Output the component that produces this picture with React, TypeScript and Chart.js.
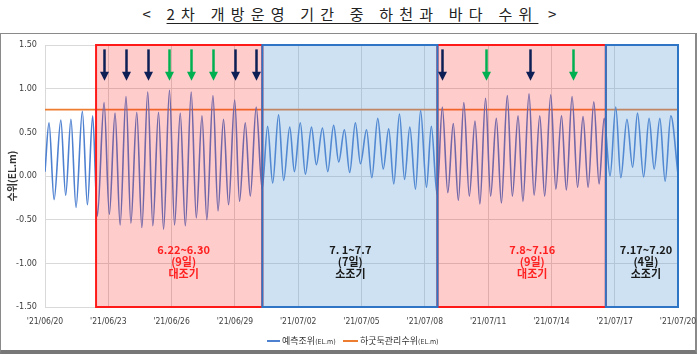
import React, { useEffect, useRef } from "react";
import { Chart, registerables } from "chart.js";

Chart.register(...registerables);

// ---------- data ----------
const xTickLabels = [
  "'21/06/20", "'21/06/23", "'21/06/26", "'21/06/29", "'21/07/02", "'21/07/05",
  "'21/07/08", "'21/07/11", "'21/07/14", "'21/07/17", "'21/07/20",
];
const xTickStepDays = 3;

// predicted tide: times of high/low water (days since 6/20) and levels (EL.m)
const tideDays = [
  0, 0.19, 0.43, 0.75, 0.98, 1.23, 1.47, 1.77, 2.01, 2.26, 2.48,
  2.80, 3.05, 3.32, 3.56, 3.84, 4.07, 4.35, 4.59, 4.87, 5.11, 5.38, 5.62, 5.90, 6.14,
  6.41, 6.65, 6.93, 7.17, 7.44, 7.67, 7.96, 8.20, 8.46, 8.70, 8.99, 9.22, 9.49, 9.73,
  10.01, 10.29, 10.55, 10.79, 11.07, 11.31, 11.60, 11.82, 12.10, 12.34, 12.63, 12.86,
  13.15, 13.40, 13.68, 13.92, 14.19, 14.44, 14.71, 14.95, 15.24, 15.49, 15.77, 16.03,
  16.29, 16.53, 16.80, 17.04, 17.29, 17.56, 17.80, 18.08, 18.31, 18.58, 18.83, 19.09,
  19.35, 19.59, 19.85, 20.11, 20.38, 20.61, 20.88, 21.12, 21.39, 21.63, 21.91, 22.15,
  22.42, 22.65, 22.94, 23.18, 23.45, 23.68, 23.97, 24.21, 24.48, 24.71, 24.98, 25.24,
  25.50, 25.74, 26.01, 26.26, 26.50, 26.78, 27.05, 27.29, 27.58, 27.85, 28.08, 28.37,
  28.63, 28.87, 29.14, 29.39, 29.66, 30,
];
const tideLevels = [
  0.05, 0.61, -0.27, 0.64, -0.22, 0.65, -0.36, 0.74, -0.33, 0.69, -0.46,
  0.84, -0.44, 0.72, -0.56, 0.91, -0.54, 0.73, -0.59, 0.96, -0.57, 0.73, -0.61, 0.98, -0.56,
  0.72, -0.57, 0.96, -0.48, 0.69, -0.50, 0.92, -0.40, 0.65, -0.33, 0.87, -0.29, 0.61, -0.23,
  0.79, -0.15, 0.57, -0.08, 0.70, -0.05, 0.56, 0.05, 0.61, 0.02, 0.56, 0.13,
  0.55, 0.05, 0.58, 0.16, 0.53, 0.04, 0.61, 0.14, 0.53, -0.02, 0.66, 0.08,
  0.54, -0.09, 0.71, -0.04, 0.56, -0.15, 0.75, -0.13, 0.57, -0.21, 0.79, -0.19,
  0.60, -0.28, 0.84, -0.23, 0.63, -0.32, 0.89, -0.23, 0.66, -0.31, 0.92, -0.23,
  0.69, -0.29, 0.94, -0.22, 0.69, -0.23, 0.93, -0.15, 0.69, -0.16, 0.91, -0.13,
  0.68, -0.13, 0.85, -0.09, 0.66, 0.00, 0.79, -0.02, 0.65, 0.10, 0.72, -0.01,
  0.66, 0.08, 0.66, -0.06, 0.69, 0.02,
];

const barrageLevel = 0.76; // 하굿둑 관리수위
const xRange = [0, 30];

// opening periods (days since 6/20)
const periodStart = [2.42, 10.3, 18.6, 26.58];
const periodEnd = [10.3, 18.6, 26.58, 30];
const periodKind = ["spring", "neap", "spring", "neap"];
const periodText = [
  ["6.22~6.30", "(9일)", "대조기"],
  ["7. 1~7.7", "(7일)", "소조기"],
  ["7.8~7.16", "(9일)", "대조기"],
  ["7.17~7.20", "(4일)", "소조기"],
];
const periodTextDay = [6.57, 14.47, 23.09, 28.48];

// arrows over high waters
const navyArrowDays = [2.8, 3.84, 4.87, 8.99, 10.01, 18.83, 22.97];
const greenArrowDays = [5.9, 6.93, 7.96, 20.88, 25.03];

const seriesNames = ["예측조위", "하굿둑관리수위"];

// ---------- styles ----------
const FONT_KR = '"Noto Sans CJK KR", "Noto Sans", sans-serif';
const FONT_NUM = '"Liberation Sans Narrow", "DejaVu Sans Condensed", "Liberation Sans", Arial, sans-serif';
const TIDE_COLOR = "#4f81d1";
const LEVEL_COLOR = "#ed7d31";

export default function App() {
  const ref = useRef<HTMLCanvasElement>(null);

  useEffect(() => {
    const canvas = ref.current;
    if (!canvas) return;

    const periodPlugin = {
      id: "periods",
      afterDatasetsDraw(chart: any) {
        const { ctx, chartArea: a, scales } = chart;
        const x = scales.x;
        const y = scales.y;
        ctx.save();
        const order = [0, 2, 1, 3];
        for (const i of order) {
          const x0 = x.getPixelForValue(periodStart[i]);
          const x1 = x.getPixelForValue(periodEnd[i]);
          ctx.fillStyle = periodKind[i] === "spring" ? "rgba(255,0,0,0.2)" : "rgba(91,155,213,0.3)";
          ctx.fillRect(x0, a.top, x1 - x0, a.bottom - a.top);
        }
        ctx.lineWidth = 2;
        for (const i of order) {
          const x0 = x.getPixelForValue(periodStart[i]);
          const x1 = x.getPixelForValue(periodEnd[i]);
          ctx.strokeStyle = periodKind[i] === "spring" ? "#ff1a1a" : "#2e75c6";
          ctx.strokeRect(x0, a.top, x1 - x0, a.bottom - a.top);
        }
        // arrows
        const drawArrow = (d: number, color: string) => {
          const px = Math.round(x.getPixelForValue(d)) + 0.5;
          const top = y.getPixelForValue(1.45);
          const tip = y.getPixelForValue(1.09);
          const head = 9;
          ctx.strokeStyle = color;
          ctx.fillStyle = color;
          ctx.lineWidth = 2.5;
          ctx.beginPath();
          ctx.moveTo(px, top);
          ctx.lineTo(px, tip - head + 1);
          ctx.stroke();
          ctx.beginPath();
          ctx.moveTo(px - 4.5, tip - head);
          ctx.lineTo(px + 4.5, tip - head);
          ctx.lineTo(px, tip);
          ctx.closePath();
          ctx.fill();
        };
        navyArrowDays.forEach((d) => drawArrow(d, "#0e1f55"));
        greenArrowDays.forEach((d) => drawArrow(d, "#00b050"));
        // labels
        ctx.font = `bold 11px ${FONT_KR}`;
        ctx.textAlign = "center";
        ctx.textBaseline = "middle";
        periodText.forEach((lines, i) => {
          ctx.fillStyle = periodKind[i] === "spring" ? "#ff2020" : "#1a1a1a";
          const cx = x.getPixelForValue(periodTextDay[i]);
          const y0 = y.getPixelForValue(-0.84);
          lines.forEach((t, k) => ctx.fillText(t, cx, y0 + k * 12));
        });
        ctx.restore();
      },
    };

    const chart = new Chart(canvas, {
      type: "line",
      data: {
        datasets: [
          {
            label: seriesNames[0],
            data: tideDays.map((d, i) => ({ x: d, y: tideLevels[i] })),
            borderColor: TIDE_COLOR,
            borderWidth: 1.6,
            pointRadius: 0,
            cubicInterpolationMode: "monotone",
            fill: false,
          },
          {
            label: seriesNames[1],
            data: [
              { x: xRange[0], y: barrageLevel },
              { x: xRange[1], y: barrageLevel },
            ],
            borderColor: LEVEL_COLOR,
            borderWidth: 1.6,
            pointRadius: 0,
            fill: false,
          },
        ],
      },
      options: {
        animation: false,
        responsive: false,
        devicePixelRatio: 1,
        layout: { padding: { left: 0, top: 12, right: 19, bottom: 0 }, autoPadding: false },
        plugins: { legend: { display: false }, tooltip: { enabled: false } },
        scales: {
          x: {
            type: "linear",
            min: xRange[0],
            max: xRange[1],
            afterFit: (s: any) => {
              s.height = 31;
              s.paddingLeft = 0;
              s.paddingRight = 0;
            },
            ticks: {
              stepSize: xTickStepDays,
              autoSkip: false,
              maxRotation: 0,
              padding: 10,
              color: "#404040",
              font: { family: FONT_NUM, size: 8.5 },
              callback: (v: any) => xTickLabels[Math.round(Number(v) / xTickStepDays)] ?? "",
            },
            grid: { color: "#d9d9d9", drawTicks: false },
            border: { color: "#d9d9d9" },
          },
          y: {
            min: -1.5,
            max: 1.5,
            afterFit: (s: any) => {
              s.width = 45;
              s.paddingTop = 0;
              s.paddingBottom = 0;
            },
            ticks: {
              stepSize: 0.5,
              padding: 8,
              color: "#404040",
              font: { family: FONT_NUM, size: 9 },
              callback: (v: any) => Number(v).toFixed(2),
            },
            grid: { color: "#d9d9d9", drawTicks: false },
            border: { color: "#d9d9d9" },
            title: {
              display: true,
              text: "수위(EL.m)",
              color: "#333",
              font: { family: FONT_KR, size: 10, weight: "bold" },
              padding: { top: 6, bottom: 0 },
            },
          },
        },
      },
      plugins: [periodPlugin],
    } as any);

    return () => chart.destroy();
  }, []);

  return (
    <div
      style={{
        position: "absolute",
        left: 0,
        top: 0,
        width: 699,
        height: 354,
        background: "#fff",
        overflow: "hidden",
      }}
    >
      <div
        style={{
          position: "absolute",
          left: 3,
          top: 4,
          width: 699,
          textAlign: "center",
          fontFamily: FONT_KR,
          fontSize: 15,
          letterSpacing: 6.2,
          lineHeight: "20px",
          color: "#222",
        }}
      >
        {"< "}
        <span style={{ textDecoration: "underline", textUnderlineOffset: 3 }}>
          2차 개방운영 기간 중 하천과 바다 수위
        </span>
        {" >"}
      </div>
      <div
        style={{
          position: "absolute",
          left: 0,
          top: 33,
          width: 697,
          height: 321,
          boxSizing: "border-box",
          border: "1px solid #8a8a8a",
          borderRight: "2px solid #8a8a8a",
          borderBottom: "4px solid #777",
        }}
      />
      <canvas
        ref={ref}
        width={697}
        height={305}
        style={{ position: "absolute", left: 0, top: 33, width: 697, height: 305 }}
      />
      <div style={{ position: "absolute", left: 267, top: 340, width: 13, borderTop: `2px solid ${TIDE_COLOR}` }} />
      <div
        style={{
          position: "absolute",
          left: 282,
          top: 334,
          fontFamily: FONT_KR,
          fontSize: 9,
          lineHeight: "14px",
          color: "#333",
          whiteSpace: "nowrap",
        }}
      >
        {seriesNames[0]}
        <span style={{ fontFamily: FONT_NUM, fontSize: 7 }}>(EL.m)</span>
      </div>
      <div style={{ position: "absolute", left: 343, top: 340, width: 15, borderTop: `2px solid ${LEVEL_COLOR}` }} />
      <div
        style={{
          position: "absolute",
          left: 360,
          top: 334,
          fontFamily: FONT_KR,
          fontSize: 9,
          lineHeight: "14px",
          color: "#333",
          whiteSpace: "nowrap",
        }}
      >
        {seriesNames[1]}
        <span style={{ fontFamily: FONT_NUM, fontSize: 7 }}>(EL.m)</span>
      </div>
    </div>
  );
}
